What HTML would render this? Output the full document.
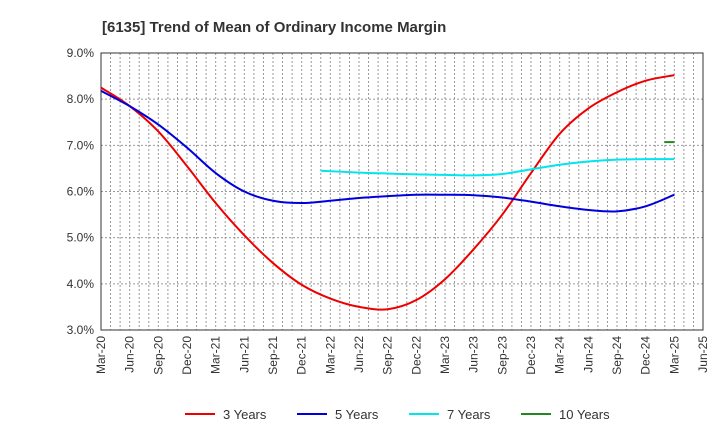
<!DOCTYPE html>
<html><head><meta charset="utf-8"><style>
body{margin:0;background:#fff;font-family:"Liberation Sans",sans-serif}
svg text{font-family:"Liberation Sans",sans-serif}
</style></head><body>
<svg id="c" width="720" height="440" viewBox="0 0 720 440">
<text x="102" y="32" font-size="15" font-weight="bold" fill="#333">[6135]  Trend of Mean of Ordinary Income Margin</text>
<g id="grid"></g><g id="axes"></g><g id="series"></g><g id="legend"></g>
</svg>
<script>
const xLabels=["Mar-20","Jun-20","Sep-20","Dec-20","Mar-21","Jun-21","Sep-21","Dec-21","Mar-22","Jun-22","Sep-22","Dec-22","Mar-23","Jun-23","Sep-23","Dec-23","Mar-24","Jun-24","Sep-24","Dec-24","Mar-25","Jun-25"];
const yTicks=[3,4,5,6,7,8,9];
const s3=[8.25,7.85,7.3,6.55,5.75,5.05,4.45,3.98,3.68,3.5,3.45,3.65,4.1,4.75,5.5,6.4,7.25,7.8,8.15,8.4,8.52];
const s5=[8.18,7.85,7.45,6.95,6.4,6.0,5.8,5.75,5.8,5.86,5.9,5.93,5.93,5.92,5.87,5.78,5.68,5.6,5.57,5.68,5.93];
const s7Dates=[7.67,9,10,11,12,13,14,15,16,17,18,19,20];
const s7=[6.45,6.41,6.39,6.37,6.36,6.35,6.38,6.48,6.58,6.65,6.69,6.7,6.7];
const s10Dates=[20];
const s10=[7.07];
const s3Dates=s3.map((_,i)=>i);
const s5Dates=s5.map((_,i)=>i);
const L=101,R=703,T=53,B=330;
const X=i=>L+i*(R-L)/21;
const Y=v=>B-(v-3)*(B-T)/6;
const NS="http://www.w3.org/2000/svg";
function mk(tag,attrs,parent){const e=document.createElementNS(NS,tag);for(const k in attrs)e.setAttribute(k,attrs[k]);parent.appendChild(e);return e;}
const grid=document.getElementById('grid'),axes=document.getElementById('axes'),ser=document.getElementById('series'),leg=document.getElementById('legend');
for(let m=1;m<63;m++){const x=L+m*(R-L)/63;const g=mk('line',{x1:x,x2:x,y1:T,y2:B,stroke:'#999','stroke-width':1,'stroke-dasharray':'2,2'},grid);

}
yTicks.forEach(v=>{const y=Y(v);
if(v>3&&v<9){const g=mk('line',{x1:L,x2:R,y1:y,y2:y,stroke:'#999','stroke-width':1,'stroke-dasharray':'2,2'},grid);

}
const t=mk('text',{x:L-7,y:y+4,'text-anchor':'end','font-size':12,fill:'#333'},axes);t.textContent=v.toFixed(1)+'%';

});
const fr=mk('rect',{x:L,y:T,width:R-L,height:B-T,fill:'none',stroke:'#333','stroke-width':1},axes);


xLabels.forEach((s,i)=>{const x=X(i);const t=mk('text',{x:x+4,y:B+6,'text-anchor':'end','font-size':12,fill:'#333',transform:`rotate(-90 ${x+4} ${B+6})`},axes);t.textContent=s;

});
function path(vals,dates){const p=vals.map((v,i)=>[X(dates[i]),Y(v)]);if(p.length===1)return `M${p[0][0]-10},${p[0][1]}L${p[0][0]},${p[0][1]}`;
let d=`M${p[0][0]},${p[0][1]}`;for(let i=0;i<p.length-1;i++){const p0=p[i-1]||p[i],p1=p[i],p2=p[i+1],p3=p[i+2]||p2;
d+=`C${p1[0]+(p2[0]-p0[0])/6},${p1[1]+(p2[1]-p0[1])/6} ${p2[0]-(p3[0]-p1[0])/6},${p2[1]-(p3[1]-p1[1])/6} ${p2[0]},${p2[1]}`;}return d;}
const list=[[s3,s3Dates,'#ee0000','3 Years','line-3-years'],[s5,s5Dates,'#0000dd','5 Years','line-5-years'],[s7,s7Dates,'#00e5ee','7 Years','line-7-years'],[s10,s10Dates,'#228822','10 Years','line-10-years']];
list.forEach(([v,dt,c,lab,nm],k)=>{const e=mk('path',{d:path(v,dt),fill:'none',stroke:c,'stroke-width':2},ser);


const lx=185+k*112;
const li=mk('line',{x1:lx,x2:lx+30,y1:414,y2:414,stroke:c,'stroke-width':2},leg);


const t=mk('text',{x:lx+38,y:419,'font-size':13,fill:'#333'},leg);t.textContent=lab;

});
</script>
</body></html>
